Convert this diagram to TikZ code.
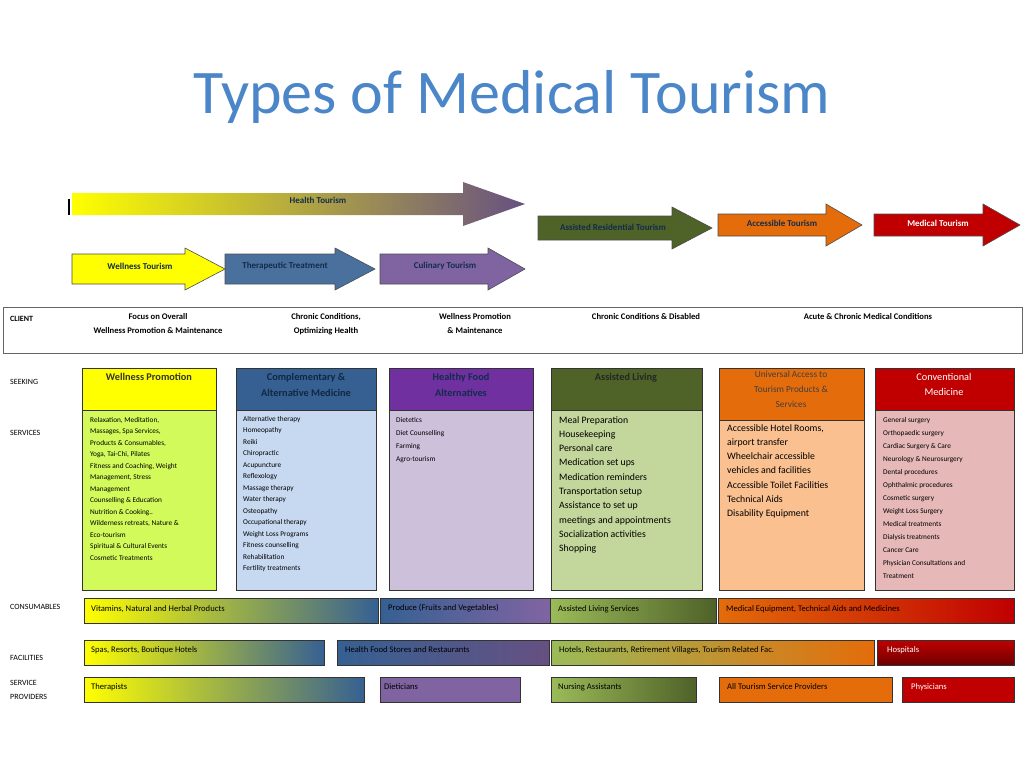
\documentclass[tikz,border=0pt]{standalone}
\usepackage{fontspec}
\setmainfont{Carlito}
\usetikzlibrary{positioning}
\definecolor{titleblue}{RGB}{74,134,200}
\definecolor{wyellow}{RGB}{255,255,0}
\definecolor{tblue}{RGB}{54,96,146}
\definecolor{cpurple}{RGB}{128,100,162}
\definecolor{hpurple}{RGB}{112,48,160}
\definecolor{olive}{RGB}{79,98,40}
\definecolor{lolive}{RGB}{155,187,89}
\definecolor{aorange}{RGB}{228,108,10}
\definecolor{mred}{RGB}{192,0,0}
\definecolor{dred}{RGB}{110,0,0}
\definecolor{navy}{RGB}{23,55,94}
\tikzset{
  lbl/.style={font=\fontsize{8}{9}\selectfont, anchor=west, inner sep=0pt},
  atxt/.style={font=\fontsize{9}{10}\selectfont\bfseries, text=navy!80!black, inner sep=0pt},
  ctxt/.style={font=\fontsize{8.6}{14}\selectfont\bfseries, align=center, anchor=north, inner sep=0pt},
  head/.style={font=\fontsize{10.3}{16}\selectfont\bfseries, align=center, anchor=north, inner sep=0pt},
  small/.style={font=\fontsize{7.3}{11.5}\selectfont, align=left, anchor=north west, inner sep=0pt},
  big/.style={font=\fontsize{9.8}{14.3}\selectfont, align=left, anchor=north west, inner sep=0pt},
  bar/.style={draw=black!80, line width=0.6pt},
  btxt/.style={font=\fontsize{8.6}{9}\selectfont, anchor=west, inner sep=0pt},
}
% \arr{x1}{headstart}{x2}{yc}{body half}{head half}{style}
\newcommand\arr[7]{\path[#7] (#1,#4-#5) -- (#2,#4-#5) -- (#2,#4-#6) -- (#3,#4)
  -- (#2,#4+#6) -- (#2,#4+#5) -- (#1,#4+#5) -- cycle;}
\begin{document}
\begin{tikzpicture}[x=1pt,y=-1pt]
	\useasboundingbox (0,0) rectangle (1024,768);
	% Titel
	\node (title) [text=titleblue, font=\fontsize{62}{62}\selectfont] at (512,97) {Types of Medical Tourism};
	% Pfeile
	\arr{72}{463}{525}{204}{11}{22}{left color=wyellow, middle color=tblue, right color=cpurple!80!black}
	\draw[line width=1.5pt] (69,199) -- (69,215);
	\node (ht) [atxt] at (318,200) {Health Tourism};
	\arr{72}{185}{225}{269}{15}{21}{fill=wyellow, draw=black!70, line width=0.6pt}
	\node (wt) [atxt] at (140,266) {Wellness Tourism};
	\arr{225}{335}{375}{269}{15}{21}{fill=tblue!90!white, draw=black!70, line width=0.6pt}
	\node (tt) [atxt] at (285,266) {Therapeutic Treatment};
	\arr{380}{488}{525}{269}{15}{21}{fill=cpurple, draw=black!70, line width=0.6pt}
	\node (cu) [atxt] at (445,266) {Culinary Tourism};
	\arr{538}{672}{712}{228}{12}{21}{fill=olive, draw=black!70, line width=0.6pt}
	\node (ar) [atxt] at (613,227) {Assisted Residential Tourism};
	\arr{718}{826}{862}{225}{11}{21}{fill=aorange, draw=black!70, line width=0.6pt}
	\node (ac) [atxt] at (782,223) {Accessible Tourism};
	\arr{874}{983}{1020}{225}{11}{21}{fill=mred, draw=black!70, line width=0.6pt}
	\node (mt) [atxt, text=white] at (938,223) {Medical Tourism};
	% Klienten
	\draw[black!60, line width=1pt] (3,307) rectangle (1022,353);
	\node (client) [lbl, font=\fontsize{8}{9}\selectfont\bfseries] at (10,319) {CLIENT};
	\node (c1) [ctxt] at (158,313) {Focus on Overall\\Wellness Promotion \& Maintenance};
	\node (c2) [ctxt] at (326,313) {Chronic Conditions,\\Optimizing Health};
	\node (c3) [ctxt] at (475,313) {Wellness Promotion\\\& Maintenance};
	\node (c4) [ctxt] at (646,313) {Chronic Conditions \& Disabled};
	\node (c5) [ctxt] at (868,313) {Acute \& Chronic Medical Conditions};
	% Zeilen
	\node (seek) [lbl] at (10,382) {SEEKING};
	\node (serv) [lbl] at (10,433) {SERVICES};
	\node (cons) [lbl] at (10,607) {CONSUMABLES};
	\node (faci) [lbl] at (10,658) {FACILITIES};
	\node (prov) [lbl, align=left, font=\fontsize{8}{14}\selectfont] at (10,690) {SERVICE\\PROVIDERS};
	% Spalten
	\draw[bar, fill=wyellow] (82,368) rectangle (216,410);
	\draw[bar, fill={rgb,255:red,210;green,250;blue,90}] (82,410) rectangle (216,590);
	\node (h1) [head, text=black!80] at (149,373) {Wellness Promotion};
	\node (s1) [small] at (90,417) {Relaxation, Meditation,\\Massages, Spa Services,\\Products \& Consumables,\\Yoga, Tai-Chi, Pilates\\Fitness and Coaching, Weight\\Management, Stress\\Management\\Counselling \& Education\\Nutrition \& Cooking..\\Wilderness retreats, Nature \&\\Eco-tourism\\Spiritual \& Cultural Events\\Cosmetic Treatments};
	\draw[bar, fill=tblue] (236,368) rectangle (376,410);
	\draw[bar, fill={rgb,255:red,198;green,217;blue,241}] (236,410) rectangle (376,590);
	\node (h2) [head, text=navy!70!black] at (306,373) {Complementary \&\\Alternative Medicine};
	\node (s2) [small] at (243,416) {Alternative therapy\\Homeopathy\\Reiki\\Chiropractic\\Acupuncture\\Reflexology\\Massage therapy\\Water therapy\\Osteopathy\\Occupational therapy\\Weight Loss Programs\\Fitness counselling\\Rehabilitation\\Fertility treatments};
	\draw[bar, fill=hpurple] (389,368) rectangle (533,410);
	\draw[bar, fill={rgb,255:red,204;green,192;blue,218}] (389,410) rectangle (533,590);
	\node (h3) [head, text=navy!80!black] at (461,373) {Healthy Food\\Alternatives};
	\node (s3) [small, font=\fontsize{7.3}{13.2}\selectfont] at (396,417) {Dietetics\\Diet Counselling\\Farming\\Agro-tourism};
	\draw[bar, fill=olive] (551,368) rectangle (702,410);
	\draw[bar, fill={rgb,255:red,195;green,214;blue,155}] (551,410) rectangle (702,590);
	\node (h4) [head, text=black!85] at (626,373) {Assisted Living};
	\node (s4) [big] at (559,416) {Meal Preparation\\Housekeeping\\Personal care\\Medication set ups\\Medication reminders\\Transportation setup\\Assistance to set up\\meetings and appointments\\Socialization activities\\Shopping};
	\draw[bar, fill=aorange] (719,368) rectangle (864,420);
	\draw[bar, fill={rgb,255:red,250;green,192;blue,144}] (719,420) rectangle (864,590);
	\node (h5) [head, font=\fontsize{9.3}{15}\selectfont, text=black!75] at (791,371) {Universal Access to\\Tourism Products \&\\Services};
	\node (s5) [big] at (727,424) {Accessible Hotel Rooms,\\airport transfer\\Wheelchair accessible\\vehicles and facilities\\Accessible Toilet Facilities\\Technical Aids\\Disability Equipment};
	\draw[bar, fill=mred] (875,368) rectangle (1014,410);
	\draw[bar, fill={rgb,255:red,230;green,185;blue,184}] (875,410) rectangle (1014,590);
	\node (h6) [head, font=\fontsize{10.3}{15}\selectfont\mdseries, text=white] at (944,373) {Conventional\\Medicine};
	\node (s6) [small, font=\fontsize{7.3}{13}\selectfont] at (883,417) {General surgery\\Orthopaedic surgery\\Cardiac Surgery \& Care\\Neurology \& Neurosurgery\\Dental procedures\\Ophthalmic procedures\\Cosmetic surgery\\Weight Loss Surgery\\Medical treatments\\Dialysis treatments\\Cancer Care\\Physician Consultations and\\Treatment};
	% Verbrauchsgueter
	\draw[bar, left color=wyellow, right color=tblue] (84,598) rectangle (378,623);
	\node (v1) [btxt] at (91,609) {Vitamins, Natural and Herbal Products};
	\draw[bar, left color=tblue, right color=cpurple] (380,598) rectangle (550,623);
	\node (v2) [btxt] at (388,608) {Produce (Fruits and Vegetables)};
	\draw[bar, left color=lolive, right color=olive] (550,598) rectangle (716,623);
	\node (v3) [btxt] at (558,609) {Assisted Living Services};
	\draw[bar, left color=aorange, right color=mred] (718,598) rectangle (1014,623);
	\node (v4) [btxt] at (726,609) {Medical Equipment, Technical Aids and Medicines};
	% Einrichtungen
	\draw[bar, left color=wyellow, right color=tblue] (84,640) rectangle (324,665);
	\node (f1) [btxt] at (91,650) {Spas, Resorts, Boutique Hotels};
	\draw[bar, left color=tblue, right color=cpurple!80!black] (337,640) rectangle (549,665);
	\node (f2) [btxt] at (345,650) {Health Food Stores and Restaurants};
	\draw[bar, left color=lolive, right color=aorange] (551,640) rectangle (874,665);
	\node (f3) [btxt] at (559,650) {Hotels, Restaurants, Retirement Villages, Tourism Related Fac.};
	\draw[bar, top color=mred, bottom color=dred] (877,640) rectangle (1014,665);
	\node (f4) [btxt, text=white] at (887,650) {Hospitals};
	% Anbieter
	\draw[bar, left color=wyellow, right color=tblue] (84,677) rectangle (364,702);
	\node (p1) [btxt] at (91,687) {Therapists};
	\draw[bar, fill=cpurple] (380,677) rectangle (520,702);
	\node (p2) [btxt] at (384,687) {Dieticians};
	\draw[bar, left color=lolive, right color=olive] (551,677) rectangle (696,702);
	\node (p3) [btxt] at (558,687) {Nursing Assistants};
	\draw[bar, fill=aorange] (719,677) rectangle (892,702);
	\node (p4) [btxt] at (727,687) {All Tourism Service Providers};
	\draw[bar, fill=mred] (902,677) rectangle (1014,702);
	\node (p5) [btxt, text=white] at (911,687) {Physicians};
\end{tikzpicture}
\end{document}
